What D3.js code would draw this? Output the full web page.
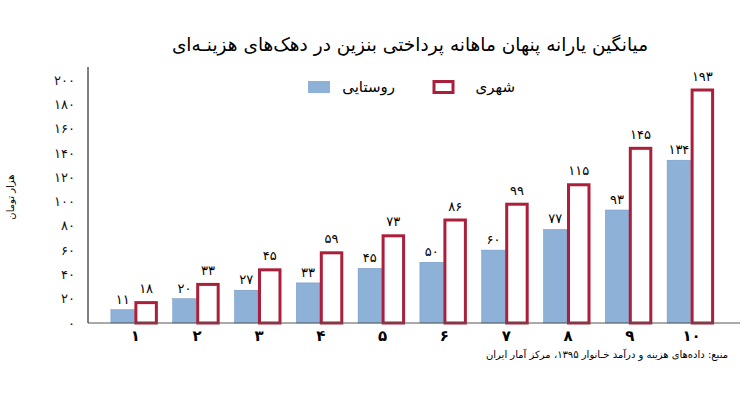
<!DOCTYPE html>
<html>
<head>
<meta charset="utf-8">
<script src="https://cdn.jsdelivr.net/npm/d3@7"></script>
<style>
  body { margin: 0; background: #fff; }
  text { font-family: "DejaVu Sans", sans-serif; }
</style>
</head>
<body>
<script>
const deciles = ['1', '2', '3', '4', '5', '6', '7', '8', '9', '10']
const rural = [11, 20, 27, 33, 45, 50, 60, 77, 93, 134]
const urban = [18, 33, 45, 59, 73, 86, 99, 115, 145, 193]
const yTicks = [0, 20, 40, 60, 80, 100, 120, 140, 160, 180, 200]

const title = 'میانگین یارانه پنهان ماهانه پرداختی بنزین در دهک‌های هزینـه‌ای'
const yTitle = 'هزار تومان'
const ruralName = 'روستایی'
const urbanName = 'شهری'
const source = 'منبع: داده‌های هزینه و درآمد خـانوار ۱۳۹۵، مرکز آمار ایران'

const fa = n => String(n).replace(/\d/g, d => '۰۱۲۳۴۵۶۷۸۹'[d])

const W = 754, H = 393
const svg = d3.select('body').append('svg')
  .attr('width', W)
  .attr('height', H)

const x = d3.scaleBand()
  .domain(deciles)
  .range([80, 745])
  .paddingInner(0.24)
  .paddingOuter(0.5)

const x1 = d3.scaleBand()
  .domain(['rural', 'urban'])
  .range([0, x.bandwidth()])

const y = d3.scaleLinear()
  .domain([0, 200])
  .range([323, 80])

// title
svg.append('text')
  .attr('x', 410)
  .attr('y', 51)
  .attr('text-anchor', 'middle')
  .attr('font-size', 18.5)
  .attr('direction', 'rtl')
  .text(title)

// y axis
const yAxis = svg.append('g')
  .attr('transform', 'translate(88,0)')
  .call(d3.axisLeft(y).tickValues(yTicks).tickSize(0).tickPadding(13).tickFormat(fa))
yAxis.select('.domain').remove()
yAxis.selectAll('text')
  .attr('font-size', 13)
  .attr('fill', '#111')

svg.append('line')
  .attr('x1', 88).attr('x2', 88)
  .attr('y1', 67).attr('y2', y(0))
  .attr('stroke', '#000')

svg.append('text')
  .attr('transform', 'translate(14,197) rotate(-90)')
  .attr('text-anchor', 'middle')
  .attr('font-size', 10)
  .attr('direction', 'rtl')
  .text(yTitle)

// bars
const groups = svg.append('g')
  .selectAll('g')
  .data(deciles)
  .join('g')
  .attr('transform', d => `translate(${x(d)},0)`)

groups.append('rect')
  .attr('x', x1('rural'))
  .attr('y', (d, i) => y(rural[i]))
  .attr('width', x1.bandwidth())
  .attr('height', (d, i) => y(0) - y(rural[i]))
  .attr('fill', '#8eb1d8')
  .attr('stroke', '#6e93bf')
  .attr('stroke-width', 0.5)

groups.append('rect')
  .attr('x', x1('urban') + 1.5)
  .attr('y', (d, i) => y(urban[i]) + 1.5)
  .attr('width', x1.bandwidth() - 3)
  .attr('height', (d, i) => y(0) - y(urban[i]) - 1.5)
  .attr('fill', '#fff')
  .attr('stroke', '#ac1f3a')
  .attr('stroke-width', 3)

groups.append('text')
  .attr('x', x1('rural') + x1.bandwidth() / 2)
  .attr('y', (d, i) => y(rural[i]) - 6)
  .attr('text-anchor', 'middle')
  .attr('font-size', 13)
  .text((d, i) => fa(rural[i]))

groups.append('text')
  .attr('x', x1('urban') + x1.bandwidth() / 2)
  .attr('y', (d, i) => y(urban[i]) - 8)
  .attr('text-anchor', 'middle')
  .attr('font-size', 13)
  .text((d, i) => fa(urban[i]))

// baseline
svg.append('line')
  .attr('x1', 88).attr('x2', 740)
  .attr('y1', y(0)).attr('y2', y(0))
  .attr('stroke', '#555')

// x labels
svg.append('g')
  .selectAll('text')
  .data(deciles)
  .join('text')
  .attr('x', d => x(d) + x.bandwidth() / 2 + 1)
  .attr('y', 341)
  .attr('text-anchor', 'middle')
  .attr('font-size', 15)
  .attr('font-weight', 'bold')
  .text(fa)

// legend
const legend = svg.append('g')
legend.append('rect')
  .attr('x', 308).attr('y', 81).attr('width', 22).attr('height', 12)
  .attr('fill', '#8eb1d8')
legend.append('text')
  .attr('x', 395).attr('y', 92)
  .attr('text-anchor', 'start')
  .attr('direction', 'rtl')
  .attr('font-size', 15)
  .text(ruralName)
legend.append('rect')
  .attr('x', 434).attr('y', 81.5).attr('width', 19).attr('height', 11)
  .attr('fill', '#fff')
  .attr('stroke', '#ac1f3a')
  .attr('stroke-width', 3)
legend.append('text')
  .attr('x', 515).attr('y', 92)
  .attr('text-anchor', 'start')
  .attr('direction', 'rtl')
  .attr('font-size', 15)
  .text(urbanName)

// source
svg.append('text')
  .attr('x', 728)
  .attr('y', 358)
  .attr('text-anchor', 'start')
  .attr('direction', 'rtl')
  .attr('font-size', 10)
  .text(source)
</script>
</body>
</html>
